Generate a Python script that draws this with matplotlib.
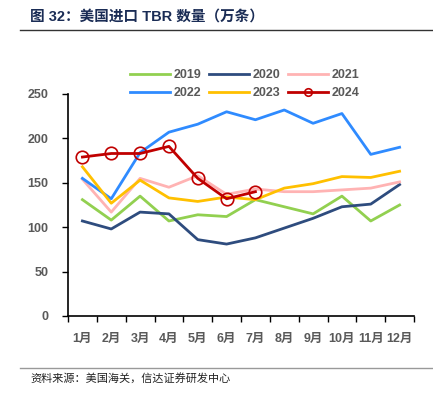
import numpy as np
import matplotlib
matplotlib.use("Agg")
import matplotlib.pyplot as plt

plt.rcParams['font.family'] = ['Liberation Sans', 'Noto Sans CJK SC', 'DejaVu Sans']

months = ['1月', '2月', '3月', '4月', '5月', '6月', '7月', '8月', '9月', '10月', '11月', '12月']
y2019 = [131, 108, 135, 107, 114, 112, 131, 123, 115, 135, 107, 125]
y2020 = [107, 98, 117, 115, 86, 81, 88, 99, 110, 123, 126, 148]
y2021 = [154, 117, 155, 145, 158, 137, 143, 140, 140, 142, 144, 151]
y2022 = [155, 132, 184, 207, 216, 230, 221, 232, 217, 228, 182, 190]
y2023 = [168, 127, 153, 133, 129, 134, 131, 144, 149, 157, 156, 163]
y2024 = [179, 183, 183, 191, 155, 132, 140]

series = [
    ('2019', y2019, '#92d050'),
    ('2020', y2020, '#2e4c7e'),
    ('2021', y2021, '#ffb3b3'),
    ('2022', y2022, '#2f8bff'),
    ('2023', y2023, '#ffc000'),
]

fig = plt.figure(figsize=(4.33, 3.99), dpi=100)
ax = fig.add_axes([68/433, 1-316/399, (414-68)/433, (316-94)/399])

x = np.arange(12)
for name, vals, col in series:
    ax.plot(x[:len(vals)], vals, color=col, lw=2.0, label=name)
ax.plot(x[:len(y2024)], y2024, color='#c00000', lw=2.0, marker='o', ms=9,
        mfc='none', mec='#c00000', mew=1.2, label='2024')

ax.set_xlim(-0.5, 11.5)
ax.set_ylim(0, 250)
ax.set_yticks(np.arange(0, 251, 50))
ax.set_xticks(np.arange(-0.5, 12, 1))
ax.set_xticklabels([])
ax.set_xticks(x, minor=True)
ax.set_xticklabels(months, minor=True)
ax.tick_params(axis='x', which='minor', length=0, pad=12)
ax.tick_params(axis='x', which='major', length=4, width=1, direction='out')
ax.tick_params(axis='y', length=4, width=1, pad=10)
for lab in ax.get_xticklabels(minor=True) + ax.get_yticklabels():
    lab.set_color('#595959')
    lab.set_fontweight('bold')
    lab.set_fontsize(9)
ax.spines['top'].set_visible(False)
ax.spines['right'].set_visible(False)
for s in ['left', 'bottom']:
    ax.spines[s].set_linewidth(1.2)

# legend fills column-wise, reorder so rows read 2019-2021 / 2022-2024
h, l = ax.get_legend_handles_labels()
order = [0, 3, 1, 4, 2, 5]
leg = fig.legend([h[i] for i in order], [l[i] for i in order], ncol=3, loc='center',
                 bbox_to_anchor=(245/433, 1-84/399),
                 frameon=False, fontsize=9, handlelength=3.2, columnspacing=0.6,
                 handletextpad=0.3, labelspacing=0.5, markerscale=0.6)
for t in leg.get_texts():
    t.set_color('#595959')
    t.set_fontweight('bold')

fig.text(30/433, 1-17/399, '图 32：美国进口 TBR 数量（万条）', fontsize=10.5,
         fontweight='bold', color='#1a2c55', va='center', ha='left')
fig.add_artist(plt.Line2D([20/433, 432/433], [1-30/399, 1-30/399], color='#333333', lw=1))
fig.add_artist(plt.Line2D([20/433, 432/433], [1-368/399, 1-368/399], color='#999999', lw=1))
fig.text(30/433, 1-378/399, '资料来源：美国海关，信达证券研发中心', fontsize=8,
         color='#222222', va='center', ha='left')

fig.savefig('out.png', dpi=100)
